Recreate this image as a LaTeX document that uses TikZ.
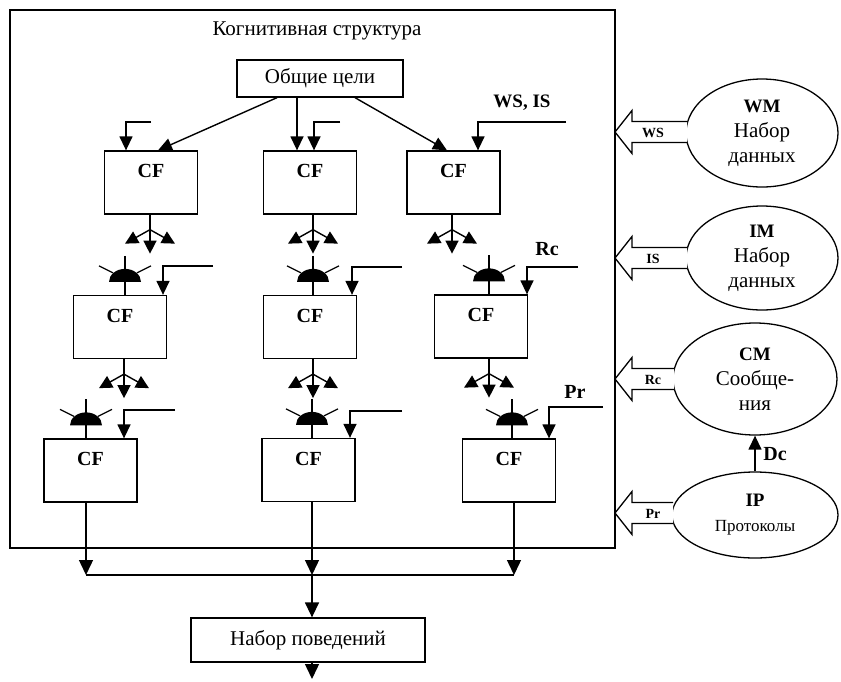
\documentclass[tikz,border=0pt]{standalone}
\usepackage{fontspec}
\setmainfont{Liberation Serif}
\usetikzlibrary{arrows.meta,shapes.geometric}
\tikzset{
  ln/.style={line width=1.3pt},
  arr/.style={line width=1.4pt,-{Triangle[length=14pt,width=13pt]}},
  farr/.style={line width=1.4pt,-{Triangle[length=13pt,width=13pt]}},
  barr/.style={line width=1.4pt,-{Triangle[length=15pt,width=14pt]}},
  cfbox/.style={draw,line width=1.3pt,minimum width=93pt,minimum height=63pt,inner sep=0pt},
  cflab/.style={font=\bfseries\fontsize{20}{22}\selectfont,inner sep=0pt},
  txtbox/.style={draw,line width=1.3pt,inner sep=0pt,font=\fontsize{21}{24}\selectfont},
  blab/.style={font=\bfseries\fontsize{19}{22}\selectfont,inner sep=0pt},
  smlab/.style={font=\bfseries\fontsize{14}{16}\selectfont,inner sep=0pt},
  ell/.style={draw,ellipse,line width=1.3pt,inner sep=0pt,align=center,font=\fontsize{21}{25}\selectfont},
  blk/.style={line width=1.3pt,fill=white,draw}
}
\newcommand\cfnode[2]{\node[cfbox] (#1) at (#2) {};\node[cflab] (#1t) at ([yshift=-21pt]#1.north) {CF};}
\newcommand\forkdown[2]{%
  \coordinate (#1s) at ([xshift=#2,yshift=-15pt]#1.south);
  \coordinate (#1fd) at ([yshift=-24pt]#1s);
  \coordinate (#1fl) at ([xshift=-25pt,yshift=-14pt]#1s);
  \coordinate (#1fr) at ([xshift=25pt,yshift=-14pt]#1s);
  \draw[ln] ([xshift=#2]#1.south) -- (#1s);
  \draw[farr] (#1s) -- (#1fd);
  \draw[farr] (#1s) -- (#1fl);
  \draw[farr] (#1s) -- (#1fr);}
\newcommand\domeon[2]{%
  \coordinate (#1b) at ([xshift=#2,yshift=13pt]#1.north);
  \fill ([xshift=-16pt]#1b) arc[start angle=180,end angle=0,x radius=16pt,y radius=13pt] -- cycle;
  \draw[ln] ([yshift=26pt]#1b) -- (#1.north -| #1b);
  \draw[ln] ([xshift=-26pt,yshift=16pt]#1b) -- ([xshift=-12pt,yshift=9pt]#1b);
  \draw[ln] ([xshift=26pt,yshift=16pt]#1b) -- ([xshift=12pt,yshift=9pt]#1b);}
\newcommand\elbowin[4]{%
  \coordinate (#1in) at (#4,#3);
  \draw[arr] (#1in) -| ([xshift=#2]#1.north);}
\newcommand\blockin[4]{% name, yc, label, xright
  \draw[blk] (#4,#2-10.5) -- (632,#2-10.5) -- (632,#2-21.5) -- (615,#2) -- (632,#2+21.5) -- (632,#2+10.5) -- (#4,#2+10.5);
  \node[smlab] (#1) at (653,#2+1) {#3};}
\begin{document}
\begin{tikzpicture}[x=1pt,y=-1pt]
\useasboundingbox (0,0) rectangle (841,681);
% frame
\draw[ln] (10,10) rectangle (615,548);
\node[font=\fontsize{21}{24}\selectfont,inner sep=0pt] (title) at (317,31) {Когнитивная структура};
\node[txtbox,minimum width=166pt,minimum height=37pt] (goals) at (320,78.5) {Общие цели};
% CF boxes
\cfnode{c1}{151,182.5}
\cfnode{c2}{310,182.5}
\cfnode{c3}{453.5,182.5}
\cfnode{d1}{120,327}
\cfnode{d2}{310,327}
\cfnode{d3}{481,326.5}
\cfnode{e1}{90.5,470.5}
\cfnode{e2}{308.5,470}
\cfnode{e3}{509,470.5}
% goal arrows
\draw[arr] ([xshift=-43pt]goals.south) -- ([xshift=7pt]c1.north);
\draw[arr] ([xshift=-23pt]goals.south) -- ([xshift=-13pt]c2.north);
\draw[arr] ([xshift=35pt]goals.south) -- ([xshift=-6.5pt]c3.north);
% side inputs
\elbowin{c1}{-25pt}{122}{151}
\elbowin{c2}{4pt}{122}{340}
\elbowin{c3}{24.5pt}{122}{566}
\elbowin{d1}{43pt}{266}{213}
\elbowin{d2}{42pt}{267}{402}
\elbowin{d3}{46pt}{267}{578}
\elbowin{e1}{33.5pt}{410}{175}
\elbowin{e2}{41.5pt}{411}{402}
\elbowin{e3}{40pt}{407}{603}
\node[blab] (wsis) at (522,103) {WS, IS};
\node[cflab] (rc) at (547,249) {Rc};
\node[cflab] (pr) at (575,392) {Pr};
% forks
\forkdown{c1}{-1pt}
\forkdown{c2}{3pt}
\forkdown{c3}{-1.5pt}
\forkdown{d1}{4pt}
\forkdown{d2}{3pt}
\forkdown{d3}{8pt}
% domes
\domeon{d1}{5pt}
\domeon{d2}{3pt}
\domeon{d3}{8pt}
\domeon{e1}{-4.5pt}
\domeon{e2}{3.5pt}
\domeon{e3}{3pt}
% outputs
\coordinate (j1) at (86,575);
\coordinate (j2) at (312,575);
\coordinate (j3) at (514,575);
\draw[barr] ([xshift=-4.5pt]e1.south) -- (j1);
\draw[barr] ([xshift=3.5pt]e2.south) -- (j2);
\draw[barr] ([xshift=5pt]e3.south) -- (j3);
\draw[ln] (j1) -- (j3);
\node[txtbox,minimum width=234pt,minimum height=44pt] (behav) at (308,640) {Набор поведений};
\draw[barr] (j2) -- (j2 |- behav.north);
\coordinate (out) at (312,679);
\draw[barr] (j2 |- behav.south) -- (out);
% right side
\node[ell,minimum width=152pt,minimum height=108pt] (wm) at (762,133) {\textbf{\fontsize{19}{25}\selectfont WM}\\Набор\\данных};
\node[ell,minimum width=152pt,minimum height=104pt] (im) at (762,258) {\textbf{\fontsize{19}{25}\selectfont IM}\\Набор\\данных};
\node[ell,minimum width=164pt,minimum height=112pt] (cm) at (755,379) {\textbf{\fontsize{19}{25}\selectfont CM}\\Сообще-\\ния};
\node[ell,minimum width=166pt,minimum height=86pt] (ip) at (755,515) {\textbf{\fontsize{19}{25}\selectfont IP}\\{\fontsize{17}{22}\selectfont Протоколы}};
\blockin{ws}{132}{WS}{687}
\blockin{is}{258}{IS}{687}
\blockin{rcb}{379}{Rc}{674}
\blockin{prb}{513}{Pr}{673}
\draw[arr] (ip.north) -- (cm.south);
\node[font=\bfseries\fontsize{20}{22}\selectfont,inner sep=0pt] (dc) at (775,454) {Dc};
\end{tikzpicture}
\end{document}
